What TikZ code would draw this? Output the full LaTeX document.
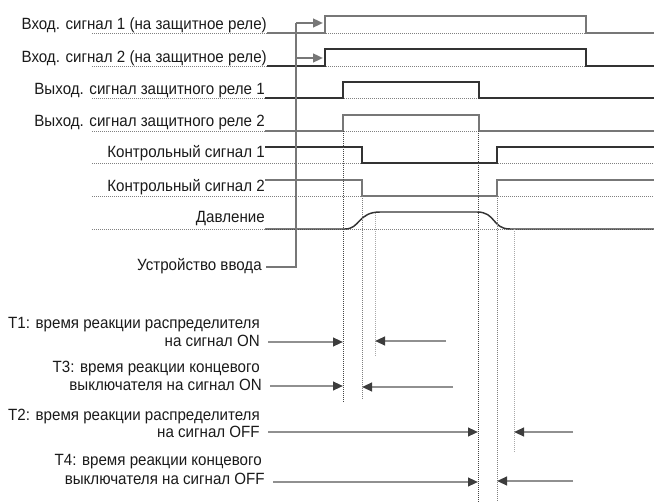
\documentclass[tikz,border=0pt]{standalone}
\usepackage{fontspec}
\setmainfont{Liberation Sans}[FakeStretch=0.93]
\usetikzlibrary{arrows.meta}
\definecolor{sigdark}{HTML}{333333}
\definecolor{siggrey}{HTML}{777777}
\definecolor{dotdark}{HTML}{444444}
\definecolor{dotgrey}{HTML}{808080}
\definecolor{dotlight}{HTML}{A8A8A8}
\definecolor{arrgrey}{HTML}{909090}
\definecolor{tipdark}{HTML}{3C3C3C}
\definecolor{txt}{HTML}{1A1A1A}
\begin{document}
\begin{tikzpicture}[x=0.75pt,y=-0.75pt,
  lbl/.style={font=\fontsize{12.2}{14}\selectfont, text=txt, inner sep=0pt, anchor=base east},
  sigd/.style={draw=sigdark, line width=1.1pt},
  sigg/.style={draw=siggrey, line width=1.1pt},
  baseline/.style={draw=dotgrey, line width=0.7pt, dash pattern=on 0.75pt off 0.75pt},
  vdark/.style={draw=dotdark, line width=0.7pt, dash pattern=on 0.75pt off 0.75pt},
  vgrey/.style={draw=dotgrey, line width=0.7pt, dash pattern=on 0.75pt off 0.75pt},
  vlight/.style={draw=dotlight, line width=0.7pt, dash pattern=on 0.75pt off 0.75pt},
  meas/.style={draw=arrgrey, line width=1.5pt, -{Triangle[length=7.5pt,width=6.5pt,color=tipdark]}},
  devline/.style={draw=siggrey, line width=1.7pt},
  devarrow/.style={draw=siggrey, line width=1.7pt, -{Triangle[length=7.5pt,width=6.5pt,color=siggrey]}}
]
\useasboundingbox (0,0) rectangle (654,502);

% dotted baselines
\foreach \y in {33,66,98,131,163,196,229}
  \draw[baseline] (92,\y) -- (654,\y);

% labels
\node[lbl] (in1) at (267,30) {Вход. сигнал 1 (на защитное реле)};
\node[lbl] (in2) at (267,63) {Вход. сигнал 2 (на защитное реле)};
\node[lbl] (out1) at (265,95) {Выход. сигнал защитного реле 1};
\node[lbl] (out2) at (265,127) {Выход. сигнал защитного реле 2};
\node[lbl] (ctl1) at (265,158) {Контрольный сигнал 1};
\node[lbl] (ctl2) at (265,192) {Контрольный сигнал 2};
\node[lbl] (pres) at (265,223) {Давление};
\node[lbl] (dev) at (262,271) {Устройство ввода};

% signals
\draw[sigg] (in1.base east |- 0,33) -- (325,33) -- (325,16) -- (586,16) -- (586,33) -- (654,33);
\draw[sigd] (in2.base east |- 0,66) -- (325,66) -- (325,49) -- (586,49) -- (586,66) -- (654,66);
\draw[sigd] (out1.base east |- 0,98) -- (343,98) -- (343,82) -- (479,82) -- (479,98) -- (654,98);
\draw[sigg] (out2.base east |- 0,131) -- (343,131) -- (343,115) -- (479,115) -- (479,131) -- (654,131);
\draw[sigd] (ctl1.base east |- 0,147) -- (362,147) -- (362,163) -- (497,163) -- (497,147) -- (654,147);
\draw[sigg] (ctl2.base east |- 0,180) -- (362,180) -- (362,196) -- (497,196) -- (497,180) -- (654,180);
\draw[sigd] (pres.base east |- 0,229) -- (345,229) .. controls (360,229) and (358,212) .. (380,212)
  -- (477,212) .. controls (496,212) and (492,229) .. (510,229) -- (654,229);

% vertical dotted guides
\draw[vdark] (343,131) -- (343,403);
\draw[vgrey] (362,196) -- (362,400);
\draw[vlight] (375,213) -- (375,357);
\draw[vdark] (478,131) -- (478,502);
\draw[vgrey] (497,196) -- (497,502);
\draw[vlight] (514,229) -- (514,453);

% input device
\coordinate (dv) at (296,267);
\coordinate (dtop) at (296,23);
\coordinate (a1) at (323,23);
\coordinate (d2) at (296,58);
\coordinate (a2) at (323,58);
\draw[devline] ([xshift=3pt]dev.base east |- 0,267) -- (dv) -- (dtop);
\draw[devarrow] (dtop) -- (a1);
\draw[devarrow] (d2) -- (a2);

% timing labels
\node[lbl] (t1a) at (260,329) {T1: время реакции распределителя};
\node[lbl] (t1b) at (260,347) {на сигнал ON};
\node[lbl] (t3a) at (260,373) {T3: время реакции концевого};
\node[lbl] (t3b) at (262,391) {выключателя на сигнал ON};
\node[lbl] (t2a) at (260,421) {T2: время реакции распределителя};
\node[lbl] (t2b) at (260,438) {на сигнал OFF};
\node[lbl] (t4a) at (262,465) {T4: время реакции концевого};
\node[lbl] (t4b) at (265,484) {выключателя на сигнал OFF};

\coordinate (t1r) at (343,342); \coordinate (t1s) at (446,341); \coordinate (t1l) at (375,341);
\coordinate (t3r) at (343,386); \coordinate (t3s) at (453,387); \coordinate (t3l) at (362,387);
\coordinate (t2r) at (478,432); \coordinate (t2s) at (573,432); \coordinate (t2l) at (514,432);
\coordinate (t4r) at (478,482); \coordinate (t4s) at (573,481); \coordinate (t4l) at (497,481);

\draw[meas] ([xshift=6pt]t1b.base east |- t1r) -- (t1r);
\draw[meas] (t1s) -- (t1l);
\draw[meas] ([xshift=6pt]t3b.base east |- t3r) -- (t3r);
\draw[meas] (t3s) -- (t3l);
\draw[meas] ([xshift=6pt]t2b.base east |- t2r) -- (t2r);
\draw[meas] (t2s) -- (t2l);
\draw[meas] ([xshift=6pt]t4b.base east |- t4r) -- (t4r);
\draw[meas] (t4s) -- (t4l);
\end{tikzpicture}
\end{document}
